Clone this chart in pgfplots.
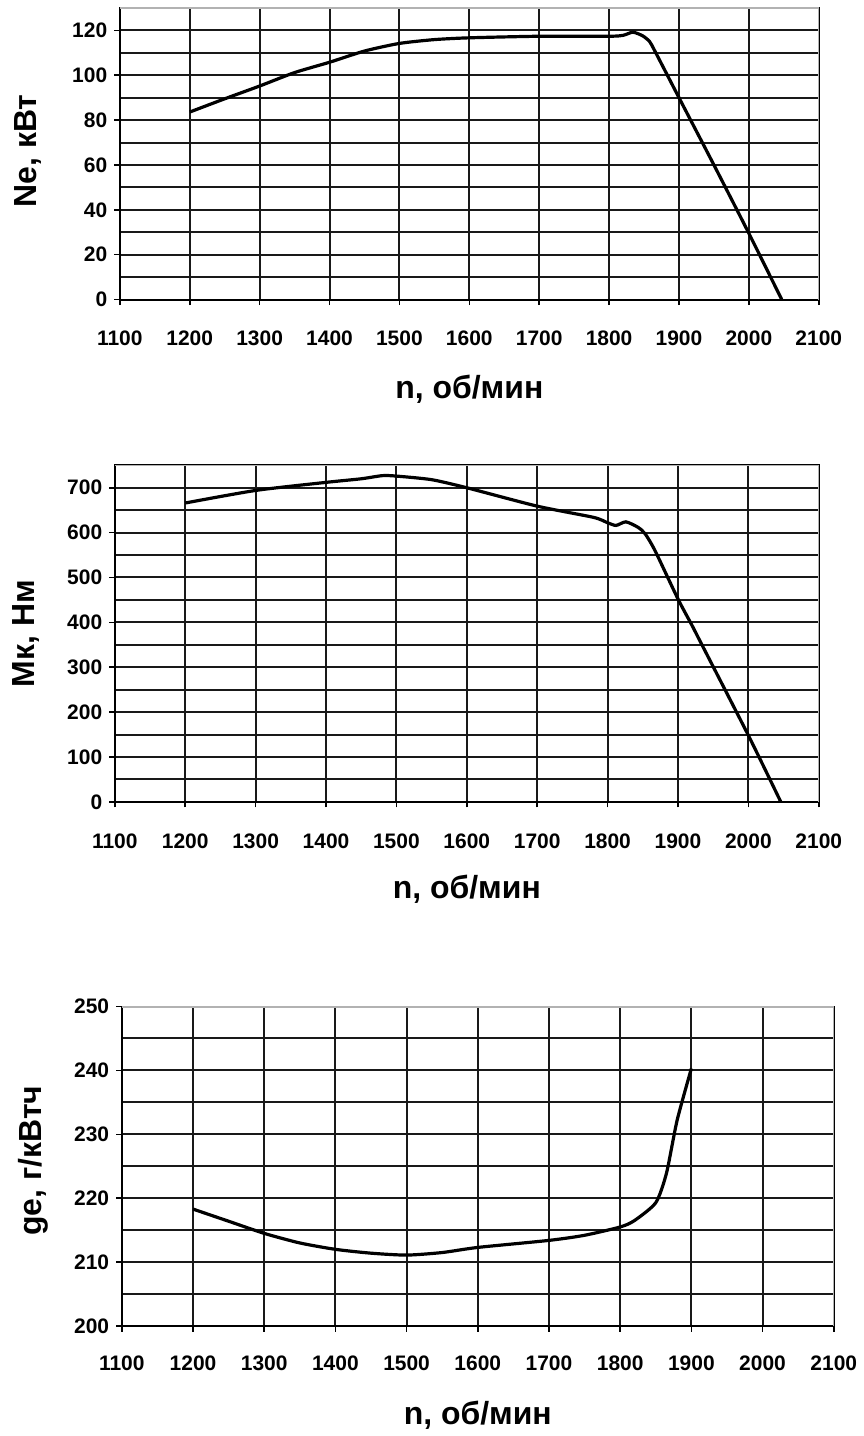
\documentclass[border=0pt]{standalone}
\usepackage{fontspec}
\setmainfont{Liberation Sans}
\usepackage{pgfplots}
\pgfplotsset{compat=1.18}

\pgfplotsset{
  engine/.style={
    scale only axis,
    anchor=south west,
    xmin=1100, xmax=2100,
    xtick={1100,1200,...,2100},
    tick pos=left, tick align=outside,
    major tick length=2.8pt, minor tick length=0pt,
    tick style={black, line width=0.8pt},
    grid=both,
    major grid style={black!90, line width=1pt},
    minor grid style={black!90, line width=1pt},
    axis line style={black, line width=1pt},
    /pgf/number format/assume math mode=true,
    /pgf/number format/1000 sep={},
    ticklabel style={font=\fontsize{10.5}{12}\selectfont\bfseries},
    label style={font=\fontsize{16}{19}\selectfont\bfseries},
    xlabel={n, об/мин},
  },
  curve/.style={black, line width=1.6pt, smooth, tension=0.4, no marks},
}

\begin{document}
\begin{tikzpicture}
\path (0,0) rectangle (431pt,-718pt);

% --- Ne ---
\begin{axis}[engine,
  at={(60pt,-150pt)}, width=350pt, height=146pt,
  ymin=0, ymax=130, ytick={0,20,...,120}, minor ytick={10,30,...,130},
  ylabel={Ne, кВт},
  xticklabel style={anchor=center, yshift=-16.5pt},
  xlabel style={at={(axis description cs:0.5,-0.309)}, anchor=center},
  ylabel style={at={(axis description cs:-0.131,0.51)}, anchor=center},
]
\addplot[curve] coordinates {
 (1200,83.6) (1250,89.5) (1300,95.2) (1350,101.2) (1400,105.8) (1450,110.8)
 (1500,114.2) (1550,115.9) (1600,116.7) (1700,117.4) (1800,117.4) (1820,117.8)
 (1834,119.2) (1848,117.6) (1858,115) (1866,110.5) (1900,90) (1950,60)
 (2000,29.5) (2047,0)
};
\draw[gray!60, line width=1pt] (rel axis cs:0,1) -- (rel axis cs:1,1) -- (rel axis cs:1,0);
\end{axis}

% --- Mk ---
\begin{axis}[engine,
  at={(57.5pt,-401.5pt)}, width=352.5pt, height=168.5pt,
  ymin=0, ymax=750, ytick={0,100,...,700}, minor ytick={50,150,...,750},
  ylabel={Мк, Нм},
  xticklabel style={anchor=center, yshift=-17.2pt},
  xlabel style={at={(axis description cs:0.5,-0.260)}, anchor=center},
  ylabel style={at={(axis description cs:-0.126,0.50)}, anchor=center},
]
\addplot[curve] coordinates {
 (1200,666) (1300,694) (1400,712) (1450,720) (1480,727) (1500,726)
 (1550,718) (1600,700) (1700,659) (1780,634) (1800,622) (1812,616)
 (1826,624) (1843,612) (1853,598) (1867,561) (1900,452) (1920,393)
 (1934,350) (2000,148) (2046,0)
};
\draw[gray!60, line width=1pt] (rel axis cs:0,1) -- (rel axis cs:1,1) -- (rel axis cs:1,0);
\end{axis}

% --- ge ---
\begin{axis}[engine,
  at={(61pt,-664pt)}, width=356.5pt, height=160pt,
  ymin=200, ymax=250, ytick={200,210,...,250}, minor ytick={205,215,...,245},
  ylabel={ge, г/кВтч},
  xticklabel style={anchor=center, yshift=-15.8pt},
  xlabel style={at={(axis description cs:0.5,-0.279)}, anchor=center},
  ylabel style={at={(axis description cs:-0.124,0.517)}, anchor=center},
]
\addplot[curve] coordinates {
 (1200,218.3) (1250,216.4) (1300,214.5) (1350,213.0) (1400,212.0) (1450,211.4)
 (1500,211.1) (1550,211.5) (1600,212.3) (1700,213.4) (1750,214.2) (1800,215.5)
 (1820,216.5) (1850,219.3) (1865,223.9) (1880,232.2) (1900,240.3)
};
\draw[gray!60, line width=1pt] (rel axis cs:1,0) -- (rel axis cs:1,1) -- (rel axis cs:0,1);
\end{axis}
\end{tikzpicture}
\end{document}
